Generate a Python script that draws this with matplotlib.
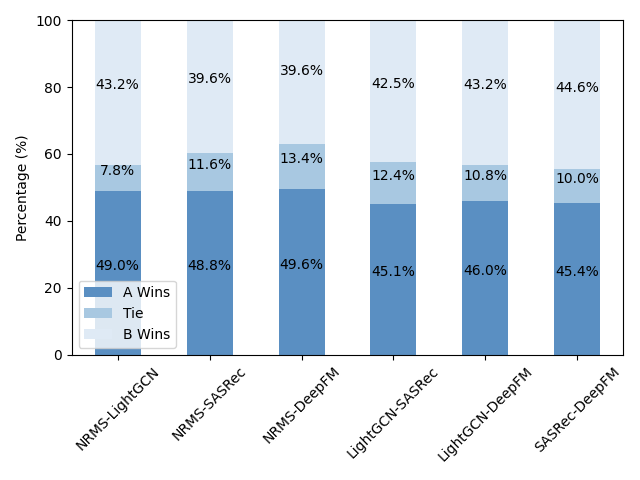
import matplotlib
matplotlib.use("Agg")
import matplotlib.pyplot as plt
import numpy as np

pairs = ["NRMS-LightGCN", "NRMS-SASRec", "NRMS-DeepFM", "LightGCN-SASRec", "LightGCN-DeepFM", "SASRec-DeepFM"]
a_wins = [49.0, 48.8, 49.6, 45.1, 46.0, 45.4]
tie = [7.8, 11.6, 13.4, 12.4, 10.8, 10.0]
b_wins = [43.2, 39.6, 39.6, 42.5, 43.2, 44.6]

series = [("A Wins", a_wins, "#5a8fc2"), ("Tie", tie, "#a8c8e1"), ("B Wins", b_wins, "#dfeaf5")]

fig, ax = plt.subplots(figsize=(6.4, 4.8), dpi=100)
x = np.arange(len(pairs))
bottom = np.zeros(len(pairs))
for name, vals, col in series:
    vals = np.array(vals)
    ax.bar(x, vals, 0.5, bottom=bottom, color=col, label=name)
    for xi, b, v in zip(x, bottom, vals):
        ax.text(xi, b + v / 2, f"{v:.1f}%", ha="center", va="bottom", fontsize=10)
    bottom = bottom + vals

ax.set_xticks(x)
ax.set_xticklabels(pairs, rotation=45)
ax.set_xlim(-0.5, len(pairs) - 0.5)
ax.set_ylim(0, 100)
ax.set_ylabel("Percentage (%)")
ax.legend(loc="lower left")
fig.subplots_adjust(left=71.7/640, right=623.3/640, top=1-20.3/480, bottom=1-354.5/480)
fig.savefig("out.png")
